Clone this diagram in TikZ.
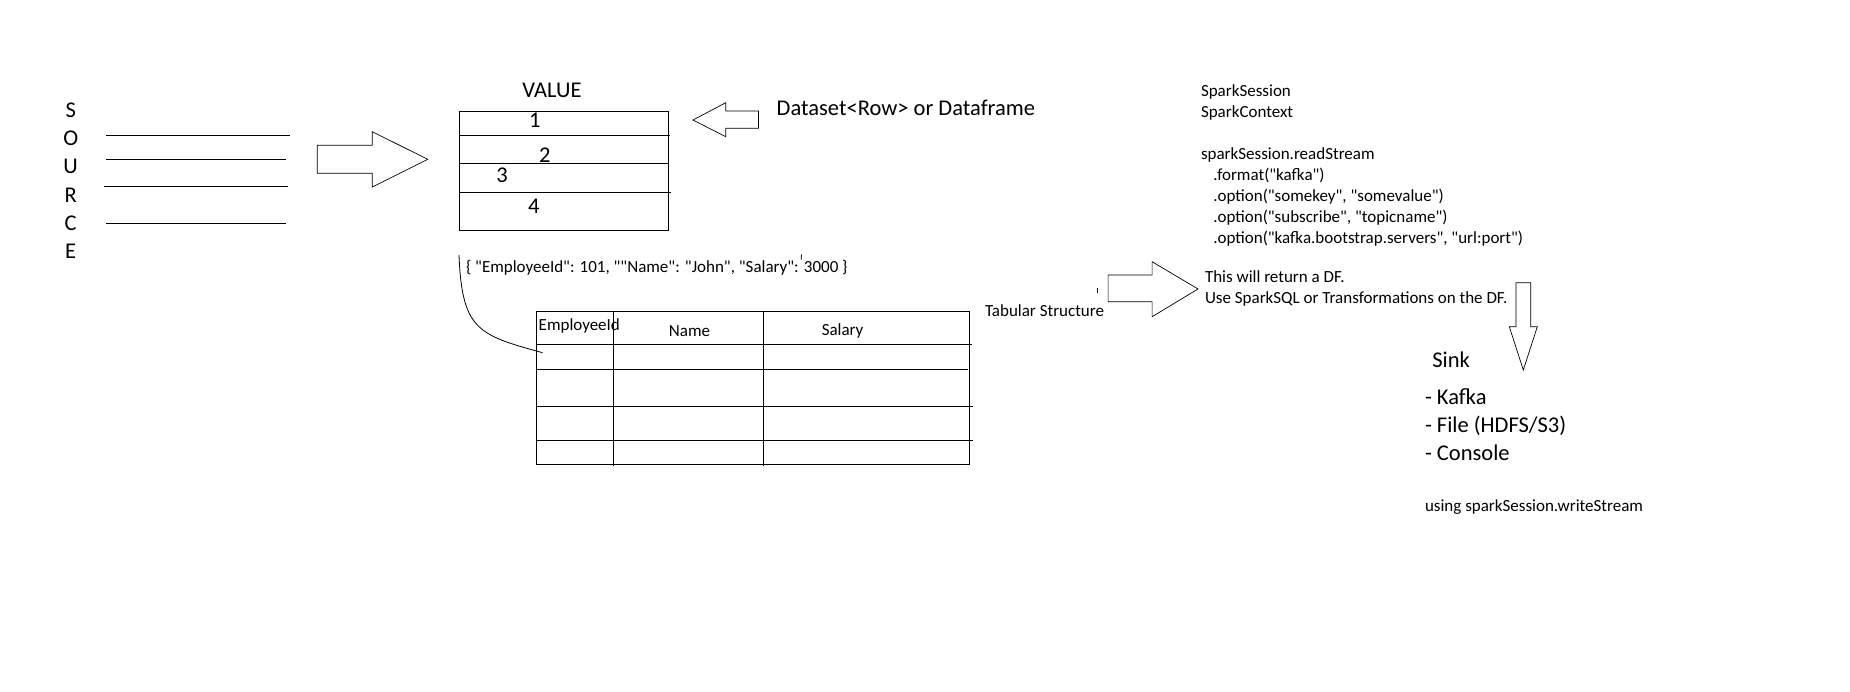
\documentclass[tikz,border=0pt]{standalone}
\usepackage{fontspec}
\setmainfont{Carlito}[Ligatures=TeXOff]
\begin{document}
\begin{tikzpicture}[x=1pt,y=-1pt,
  big/.style={font=\fontsize{22.5}{27}\selectfont, inner sep=0pt, outer sep=0pt},
  small/.style={font=\fontsize{17}{20.8}\selectfont, inner sep=0pt, outer sep=0pt},
  ln/.style={line width=1pt},
  blockarrow/.style={line width=0.7pt, fill=white}]
\fill[white] (0,0) rectangle (1850,691);
\useasboundingbox (0,0) rectangle (1850,691);

% SOURCE letters
\foreach \ch/\yy/\nm in {S/117.2/s1,O/145.2/s2,U/173.2/s3,R/202.2/s4,C/230.2/s5,E/258.2/s6}
  \node[big, anchor=base] (\nm) at (70.7,\yy) {\ch};

% source lines
\coordinate (l1a) at (106,135.3); \coordinate (l1b) at (290,135.3);
\coordinate (l2a) at (106,159.3); \coordinate (l2b) at (285.7,159.3);
\coordinate (l3a) at (104,186.3); \coordinate (l3b) at (287.7,186.3);
\coordinate (l4a) at (106,223.3); \coordinate (l4b) at (286,223.3);
\draw[ln] (l1a) -- (l1b); \draw[ln] (l2a) -- (l2b);
\draw[ln] (l3a) -- (l3b); \draw[ln] (l4a) -- (l4b);

% block arrow 1
\draw[blockarrow] (317.3,145.3) -- (372.3,145.3) -- (372.3,131.7) -- (427.7,159.3)
  -- (372.3,187) -- (372.3,173.3) -- (317.3,173.3) -- cycle;

% VALUE box
\node[big, anchor=base] (value) at (552,97.2) {VALUE};
\draw[ln] (459.3,111) rectangle (668.6,230.3);
\draw[ln] (459.3,135.3) -- (669.8,135.3);
\draw[ln] (459.3,163.3) -- (668.6,163.3);
\draw[ln] (459.3,192.3) -- (671,192.3);
\node[big, anchor=base] (v1) at (534.7,127) {1};
\node[big, anchor=base] (v2) at (544.9,162.8) {2};
\node[big, anchor=base] (v3) at (502,182.8) {3};
\node[big, anchor=base] (v4) at (533.9,213.8) {4};

% block arrow 2 (left)
\draw[blockarrow] (758.4,111) -- (725.7,111) -- (725.7,102.7) -- (693,120)
  -- (725.7,136.7) -- (725.7,128.3) -- (758.4,128.3) -- cycle;
\node[big, anchor=base west] (ds) at (776.7,115.2) {Dataset<Row> or Dataframe};

% JSON
\node[small, anchor=base west] (json) at (466,272.7) {\{ "EmployeeId": 101, ""Name": "John", "Salary": 3000 \}};
\draw[line width=0.8pt] (801.5,254.5) -- (801.1,259.5);

% curve
\coordinate (cstart) at (459,255);
\coordinate (cend) at (542.6,352.7);
\draw[line width=0.8pt] (cstart) .. controls (462,330) and (478,335) .. (cend);

% table
\draw[ln] (536.4,311) rectangle (969.3,464);
\draw[ln] (613.4,311) -- (613.4,466);
\draw[ln] (763.4,311) -- (763.4,466);
\draw[ln] (536.4,344.3) -- (972,344.3);
\draw[ln] (536.4,369.3) -- (968,369.3);
\draw[ln] (536.4,406) -- (972.7,406);
\draw[ln] (536.4,440.3) -- (972.7,440.3);
\node[small, anchor=base west] (hid) at (538.7,330.4) {EmployeeId};
\node[small, anchor=base] (hname) at (689.5,336.1) {Name};
\node[small, anchor=base] (hsal) at (842.6,335.4) {Salary};

% tabular structure
\node[small, anchor=base west] (tab) at (985,316.1) {Tabular Structure};
\draw[line width=1pt] (1097.8,288) -- (1097.8,293);

% block arrow 3
\draw[blockarrow] (1108.1,275) -- (1152.1,275) -- (1152.1,261.7) -- (1198,289)
  -- (1152.1,316.7) -- (1152.1,301.7) -- (1108.1,301.7) -- cycle;

% spark code
\node[small, anchor=base west] (c1) at (1201,96.4) {SparkSession};
\node[small, anchor=base west] (c2) at (1201,117.1) {SparkContext};
\node[small, anchor=base west] (c3) at (1201,159.4) {sparkSession.readStream};
\node[small, anchor=base west] (c4) at (1213.3,180.4) {.format("kafka")};
\node[small, anchor=base west] (c5) at (1213.3,201.4) {.option("somekey", "somevalue")};
\node[small, anchor=base west] (c6) at (1213.3,222.1) {.option("subscribe", "topicname")};
\node[small, anchor=base west] (c7) at (1213.3,243.1) {.option("kafka.bootstrap.servers", "url:port")};
\node[small, anchor=base west] (r1) at (1205,282.1) {This will return a DF.};
\node[small, anchor=base west] (r2) at (1205,303.1) {Use SparkSQL or Transformations on the DF.};

% block arrow 4 (down)
\draw[blockarrow] (1516,282.7) -- (1530.7,282.7) -- (1530.7,326.7) -- (1537.3,326.7)
  -- (1523.3,370) -- (1509.3,326.7) -- (1516,326.7) -- cycle;

% sink
\node[big, anchor=base west] (sink) at (1432.3,367.9) {Sink};
\node[big, anchor=base west] (k1) at (1425,404.9) {- Kafka};
\node[big, anchor=base west] (k2) at (1425,432.9) {- File (HDFS/S3)};
\node[big, anchor=base west] (k3) at (1425,460.9) {- Console};
\node[small, anchor=base west] (ws) at (1425,511.1) {using sparkSession.writeStream};
\end{tikzpicture}
\end{document}
